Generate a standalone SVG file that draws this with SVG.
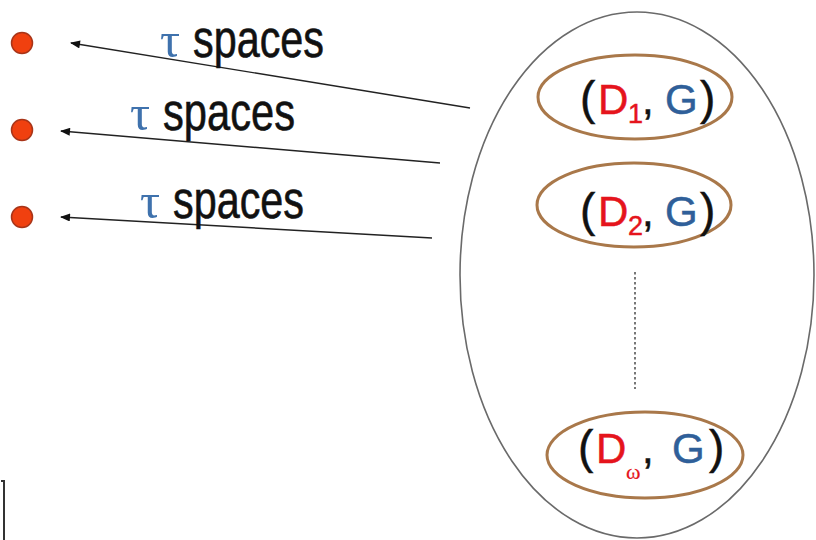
<svg xmlns="http://www.w3.org/2000/svg" width="816" height="540" viewBox="0 0 816 540">
  <style>
    .dot { fill: #f0400f; stroke: #a83418; stroke-width: 1.5; }
    .link { fill: none; stroke: #222; stroke-width: 1.4; }
    .pair { fill: none; stroke: #a9784a; stroke-width: 3; }
    .set { fill: none; stroke: #6a6a6a; stroke-width: 1.6; }
    .lbl { font-family: "Liberation Sans", Arial, sans-serif; font-size: 51px; fill: #111; stroke: #111; stroke-width: 0.6; }
    .tau { font-family: "Liberation Serif", "DejaVu Serif", serif; font-size: 50px; fill: #3f72ad; }
    .tup { font-family: "Liberation Sans", Arial, sans-serif; font-size: 42px; fill: #111; stroke: #111; stroke-width: 0.5; }
    .par { font-size: 46px; }
    .red { fill: #e5141c; stroke: #e5141c; }
    .blue { fill: #2f5f99; stroke: #2f5f99; }
    .sub { font-size: 27px; }
  </style>
  <defs>
    <marker id="arrow" viewBox="0 0 10 8" refX="9" refY="4" markerWidth="11" markerHeight="8" markerUnits="userSpaceOnUse" orient="auto">
      <path d="M0,0 L10,4 L0,8 Z" fill="#111"/>
    </marker>
  </defs>
  <rect width="816" height="540" fill="#ffffff"/>

  <!-- points on the left -->
  <g id="point1"><circle class="dot" cx="22" cy="43" r="10.5"/></g>
  <g id="point2"><circle class="dot" cx="22" cy="130" r="10.5"/></g>
  <g id="point3"><circle class="dot" cx="22" cy="217" r="10.5"/></g>

  <!-- connectors -->
  <g id="connectors">
    <line class="link" x1="470" y1="108" x2="71" y2="43" marker-end="url(#arrow)"/>
    <line class="link" x1="440" y1="163" x2="61" y2="131" marker-end="url(#arrow)"/>
    <line class="link" x1="432" y1="238" x2="61" y2="217" marker-end="url(#arrow)"/>
  </g>

  <!-- connector labels -->
  <g id="label1">
    <text class="tau" x="160" y="57">τ</text>
    <text class="lbl" x="193" y="57" textLength="131" lengthAdjust="spacingAndGlyphs">spaces</text>
  </g>
  <g id="label2">
    <text class="tau" x="130" y="130">τ</text>
    <text class="lbl" x="163" y="130" textLength="132" lengthAdjust="spacingAndGlyphs">spaces</text>
  </g>
  <g id="label3">
    <text class="tau" x="140" y="218">τ</text>
    <text class="lbl" x="173" y="218" textLength="131" lengthAdjust="spacingAndGlyphs">spaces</text>
  </g>

  <!-- enclosing set -->
  <g id="set"><ellipse class="set" cx="637" cy="275" rx="177" ry="263"/></g>

  <g id="pair1">
    <ellipse class="pair" cx="635" cy="97" rx="97" ry="42"/>
    <text class="tup" y="114"><tspan class="par" x="580">(</tspan><tspan class="red" x="598">D</tspan><tspan class="red sub" x="628" y="123">1</tspan><tspan x="642" y="114">,</tspan><tspan class="blue" x="665">G</tspan><tspan class="par" x="700">)</tspan></text>
  </g>
  <g id="pair2">
    <ellipse class="pair" cx="634" cy="205" rx="97" ry="42"/>
    <text class="tup" y="226"><tspan class="par" x="580">(</tspan><tspan class="red" x="598">D</tspan><tspan class="red sub" x="628" y="235">2</tspan><tspan x="642" y="226">,</tspan><tspan class="blue" x="665">G</tspan><tspan class="par" x="700">)</tspan></text>
  </g>

  <!-- ellipsis between pairs -->
  <line id="gap" x1="635" y1="272" x2="635" y2="389" stroke="#777" stroke-width="2" stroke-dasharray="2.5 2.5"/>

  <g id="pairw">
    <ellipse class="pair" cx="645" cy="455" rx="98" ry="43"/>
    <text class="tup" y="463"><tspan class="par" x="578">(</tspan><tspan class="red" x="596">D</tspan><tspan class="red" x="626" y="479" font-family="Liberation Serif, serif" font-size="22" stroke-width="0.2">ω</tspan><tspan x="642" y="463">,</tspan><tspan class="blue" x="672">G</tspan><tspan class="par" x="709">)</tspan></text>
  </g>

  <!-- edge mark at bottom left -->
  <path d="M1,481 L4,481 L4,540" fill="none" stroke="#333" stroke-width="2"/>
</svg>
